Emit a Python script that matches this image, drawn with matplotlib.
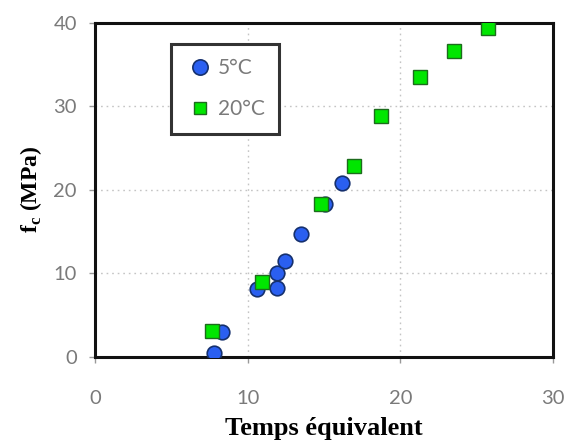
import matplotlib
matplotlib.use("Agg")
import matplotlib.pyplot as plt
from matplotlib.lines import Line2D

# Data
x_5C = [7.78, 8.32, 10.58, 11.93, 11.93, 12.47, 13.49, 15.06, 16.2]
y_5C = [0.5, 3.0, 8.1, 8.3, 10.0, 11.5, 14.7, 18.3, 20.85]
x_20C = [7.68, 10.91, 14.77, 16.95, 18.73, 21.3, 23.48, 25.75]
y_20C = [3.1, 9.0, 18.3, 22.9, 28.8, 33.5, 36.6, 39.4]
xticks = [0, 10, 20, 30]
yticks = [0, 10, 20, 30, 40]
labels = ["5°C", "20°C"]

fig = plt.figure(figsize=(5.67, 4.45), dpi=100)
ax = fig.add_axes([0.1675, 0.198, 0.808, 0.751])

ax.plot(x_5C, y_5C, linestyle="none", marker="o", markersize=10.5,
        markerfacecolor="#2a5ff0", markeredgecolor="#15306e", markeredgewidth=1.2, zorder=3)
ax.plot(x_20C, y_20C, linestyle="none", marker="s", markersize=9.5,
        markerfacecolor="#00e600", markeredgecolor="#1d6b1d", markeredgewidth=1.0, zorder=4)

ax.set_xlim(0, 30)
ax.set_ylim(0, 40)
ax.set_xticks(xticks)
ax.set_yticks(yticks)
ax.grid(True, linestyle=(0, (1.2, 2.8)), color="#c4c4c4", linewidth=1.0)
ax.set_axisbelow(True)
for s in ax.spines.values():
    s.set_color("#111111")
    s.set_linewidth(2.2)

ax.tick_params(axis="x", direction="out", length=4, width=1, color="#999999",
               labelsize=14.5, labelcolor="#7a7a7a", pad=20)
ax.tick_params(axis="y", direction="out", length=4, width=1, color="#999999",
               labelsize=14.5, labelcolor="#7a7a7a", pad=9)
for t in ax.get_xticklabels() + ax.get_yticklabels():
    t.set_fontfamily("Lato")

ax.set_xlabel("Temps équivalent", fontfamily="Liberation Serif", fontweight="bold",
              fontsize=19, labelpad=7)
ax.set_ylabel(r"f$_\mathregular{c}$ (MPa)", fontfamily="Liberation Serif", fontweight="bold",
              fontsize=17, labelpad=7)

handles = [
    Line2D([], [], linestyle="none", marker="o", markersize=11, markerfacecolor="#2a5ff0",
           markeredgecolor="#15306e", markeredgewidth=1.2),
    Line2D([], [], linestyle="none", marker="s", markersize=9, markerfacecolor="#00e600",
           markeredgecolor="#1d6b1d", markeredgewidth=1.0),
]
leg = ax.legend(handles, labels, loc="upper left", bbox_to_anchor=(0.166, 0.937),
                frameon=True, fancybox=False, edgecolor="#333333", framealpha=1,
                handletextpad=0.15, handlelength=1.4, borderpad=0.7, labelspacing=1.0,
                borderaxespad=0,
                prop={"family": "Lato", "size": 15})
leg.get_frame().set_linewidth(2.2)
for t in leg.get_texts():
    t.set_color("#7a7a7a")

fig.savefig("out.png", dpi=100)
